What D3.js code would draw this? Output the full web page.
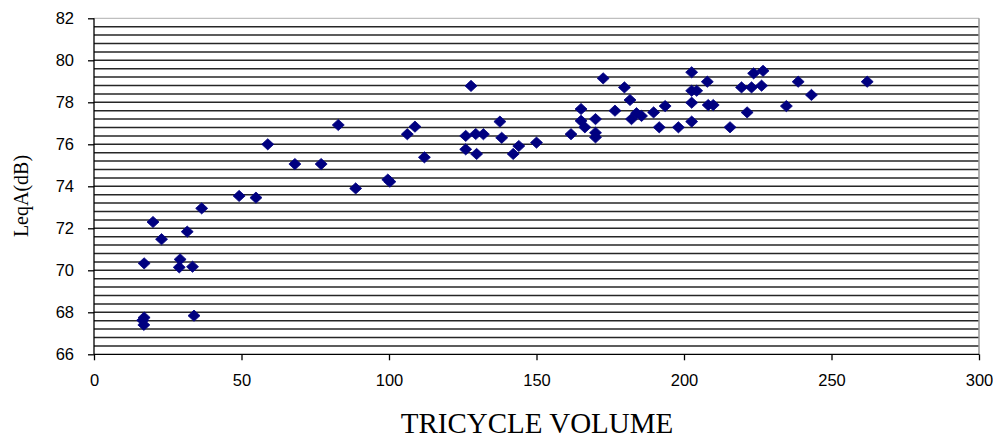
<!DOCTYPE html>
<html>
<head>
<meta charset="utf-8">
<script src="https://cdn.jsdelivr.net/npm/d3@7"></script>
<style>
  html, body { margin: 0; padding: 0; background: #fff; }
  svg { display: block; }
</style>
</head>
<body>
<svg id="chart" width="993" height="439"></svg>
<script>
// ---- data ----
const volume = [
  16.5, 16.9, 17.0, 17.0, 20.0, 22.9, 28.9, 29.2, 31.6, 33.4, 33.9, 36.5,
  49.2, 54.9, 58.9, 68.1, 77.0, 82.8, 88.7, 99.6, 100.3, 106.2, 108.8, 112.0,
  126.0, 126.0, 127.8, 129.4, 129.7, 132.0, 137.6, 138.2, 142.1, 144.0, 150.0,
  161.7, 165.1, 165.1, 166.4, 170.0, 170.0, 170.0, 172.6, 176.6, 179.8, 181.7,
  182.2, 183.9, 185.6, 189.7, 191.6, 193.6, 198.1, 202.6, 202.6, 202.6, 202.6,
  204.3, 207.9, 208.2, 209.9, 215.6, 219.5, 221.4, 222.9, 223.6, 226.3, 226.8,
  234.7, 238.7, 243.2, 262.1
];
const leqA = [
  67.62, 67.40, 67.75, 70.33, 72.30, 71.48, 70.14, 70.52, 71.84, 70.17, 67.84, 72.95,
  73.54, 73.46, 76.00, 75.06, 75.06, 76.92, 73.90, 74.32, 74.22, 76.48, 76.84, 75.38,
  76.40, 75.76, 78.78, 76.49, 75.54, 76.48, 77.08, 76.31, 75.54, 75.92, 76.08,
  76.48, 77.68, 77.12, 76.81, 77.20, 76.55, 76.33, 79.14, 77.60, 78.71, 78.11,
  77.20, 77.48, 77.35, 77.52, 76.81, 77.82, 76.81, 79.43, 78.55, 77.98, 77.08,
  78.55, 78.98, 77.87, 77.87, 76.81, 78.71, 77.52, 78.71, 79.38, 78.79, 79.50,
  77.82, 78.98, 78.35, 78.98
];
const xTicks = [0, 50, 100, 150, 200, 250, 300];
const yTicks = [66, 68, 70, 72, 74, 76, 78, 80, 82];
const xTitle = "TRICYCLE VOLUME";
const yTitle = "LeqA(dB)";

// ---- layout ----
const svg = d3.select("#chart");
const pLeft = 94, pRight = 979, pTop = 18.3, pBottom = 354.3;

const x = d3.scaleLinear().domain([0, 300]).range([pLeft, pRight]);
const y = d3.scaleLinear().domain([66, 82]).range([pBottom, pTop]);

// horizontal grid lines every 0.4
const gridVals = d3.range(0, 41).map(i => 66 + i * 0.4);
svg.append("g").selectAll("line")
  .data(gridVals.filter(v => v > 66.01 && v < 81.99))
  .join("line")
  .attr("x1", pLeft).attr("x2", pRight)
  .attr("y1", d => y(d)).attr("y2", d => y(d))
  .attr("stroke", "#262626").attr("stroke-width", 1.5);

// top border and right border (light gray)
svg.append("line").attr("x1", pLeft).attr("x2", pRight)
  .attr("y1", y(82)).attr("y2", y(82))
  .attr("stroke", "#b0b0b0").attr("stroke-width", 1);
svg.append("line").attr("x1", pRight).attr("x2", pRight)
  .attr("y1", y(82)).attr("y2", y(66))
  .attr("stroke", "#999").attr("stroke-width", 1.5);

// axes
const fontSans = "'Liberation Sans', Arial, sans-serif";
const xAxis = d3.axisBottom(x).tickValues(xTicks).tickSize(6).tickPadding(14).tickFormat(d3.format("d"));
const yAxis = d3.axisLeft(y).tickValues(yTicks).tickSize(6).tickPadding(14).tickFormat(d3.format("d"));

const gx = svg.append("g").attr("transform", `translate(0,${pBottom})`).call(xAxis);
const gy = svg.append("g").attr("transform", `translate(${pLeft},0)`).call(yAxis);
[gx, gy].forEach(g => {
  g.select(".domain").attr("stroke", "#000").attr("stroke-width", 1.3);
  g.selectAll(".tick line").attr("stroke", "#000").attr("stroke-width", 1.3);
  g.selectAll(".tick text").attr("fill", "#000")
    .style("font-family", fontSans).style("font-size", "16.5px");
});
gx.select(".domain").attr("d", `M${pLeft},0H${pRight}`);
gy.select(".domain").attr("d", `M0,${pTop}V${pBottom}`);

// markers: diamonds
const diamond = {
  draw(ctx, size) {
    const w = 6, h = 5.6;
    ctx.moveTo(0, -h); ctx.lineTo(w, 0); ctx.lineTo(0, h); ctx.lineTo(-w, 0); ctx.closePath();
  }
};
const pts = volume.map((v, i) => ({ v, l: leqA[i] }));
svg.append("g").selectAll("path")
  .data(pts)
  .join("path")
  .attr("d", d3.symbol(diamond))
  .attr("transform", d => `translate(${x(d.v)},${y(d.l)})`)
  .attr("fill", "#000080")
  .attr("stroke", "#000080").attr("stroke-width", 0.8);

// titles
const fontSerif = "'Liberation Serif', 'Times New Roman', serif";
svg.append("text")
  .attr("x", 537).attr("y", 433)
  .attr("text-anchor", "middle")
  .style("font-family", fontSerif).style("font-size", "29px")
  .attr("fill", "#000")
  .text(xTitle);
svg.append("text")
  .attr("transform", "translate(28,196) rotate(-90)")
  .attr("text-anchor", "middle")
  .style("font-family", fontSerif).style("font-size", "20px")
  .attr("fill", "#000")
  .text(yTitle);
</script>
</body>
</html>
